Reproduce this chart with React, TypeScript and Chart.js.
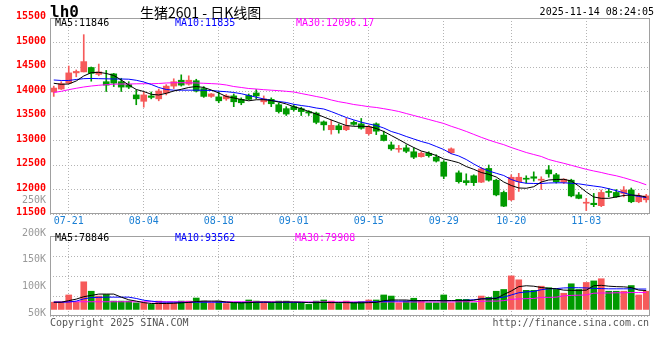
import React, { useEffect, useRef } from 'react';
import { Chart, registerables } from 'chart.js';

Chart.register(...registerables);

const MONO = '"DejaVu Sans Mono", "Liberation Mono", monospace';
const CJK = '"Noto Sans CJK SC", "Noto Sans", sans-serif';
const UP = '#f65a5a';
const DOWN = '#009a00';
const GRID = '#b4b4b4';
const FRAME = '#a0a0a0';

// ---- data ----
const dates = [
  '07-17', '07-18', '07-21', '07-22', '07-23', '07-24', '07-25', '07-28', '07-29', '07-30',
  '07-31', '08-01', '08-04', '08-05', '08-06', '08-07', '08-08', '08-11', '08-12', '08-13',
  '08-14', '08-15', '08-18', '08-19', '08-20', '08-21', '08-22', '08-25', '08-26', '08-27',
  '08-28', '08-29', '09-01', '09-02', '09-03', '09-04', '09-05', '09-08', '09-09', '09-10',
  '09-11', '09-12', '09-15', '09-16', '09-17', '09-18', '09-19', '09-22', '09-23', '09-24',
  '09-25', '09-26', '09-29', '09-30', '10-09', '10-10', '10-13', '10-14', '10-15', '10-16',
  '10-17', '10-20', '10-21', '10-22', '10-23', '10-24', '10-27', '10-28', '10-29', '10-30',
  '10-31', '11-03', '11-04', '11-05', '11-06', '11-07', '11-10', '11-11', '11-12', '11-13',
];

const opens = [
  13990, 14050, 14170, 14380, 14400, 14490, 14350, 14200, 14360, 14200,
  14140, 13930, 13800, 13910, 13850, 13970, 14110, 14230, 14150, 14220,
  14060, 13900, 13890, 13850, 13910, 13840, 13920, 13970, 13790, 13840,
  13730, 13650, 13690, 13650, 13590, 13560, 13380, 13220, 13300, 13220,
  13370, 13340, 13140, 13340, 13110, 12910, 12820, 12850, 12770, 12670,
  12740, 12660, 12560, 12750, 12340, 12180, 12280, 12150, 12430, 12190,
  11940, 11790, 12160, 12220, 12260, 12190, 12400, 12300, 12150, 12190,
  11890, 11720, 11720, 11670, 11960, 11940, 11920, 11990, 11750, 11790,
];
const closes = [
  14070, 14160, 14380, 14410, 14610, 14370, 14400, 14130, 14170, 14090,
  14090, 13850, 13930, 13880, 14010, 14110, 14200, 14130, 14230, 14010,
  13900, 13950, 13810, 13910, 13790, 13770, 13840, 13910, 13850, 13750,
  13590, 13540, 13630, 13590, 13560, 13370, 13320, 13310, 13220, 13300,
  13330, 13250, 13280, 13190, 13000, 12830, 12830, 12780, 12660, 12740,
  12690, 12580, 12270, 12830, 12160, 12140, 12140, 12420, 12190, 11890,
  11660, 12250, 12250, 12210, 12230, 12210, 12320, 12160, 12210, 11870,
  11820, 11740, 11690, 11940, 11940, 11850, 11990, 11750, 11870, 11870,
];
const highs = [
  14110, 14200, 14520, 14440, 15160, 14500, 14560, 14430, 14370, 14270,
  14200, 14030, 13990, 13990, 14050, 14140, 14260, 14340, 14320, 14250,
  14100, 13960, 13990, 13940, 13950, 13870, 13950, 14040, 13910, 13870,
  13770, 13690, 13730, 13680, 13610, 13580, 13400, 13420, 13340, 13450,
  13400, 13450, 13310, 13360, 13190, 12970, 12900, 12910, 12850, 12770,
  12770, 12710, 12590, 12850, 12380, 12320, 12300, 12450, 12500, 12210,
  11970, 12300, 12330, 12280, 12360, 12260, 12490, 12330, 12220, 12210,
  11940, 11820, 11920, 11990, 12020, 12000, 12060, 12030, 11920, 11900,
];
const lows = [
  13900, 14040, 14160, 14300, 14400, 14210, 14320, 14000, 14100, 14000,
  14060, 13730, 13680, 13850, 13810, 13930, 14060, 14110, 14130, 13990,
  13880, 13880, 13770, 13820, 13690, 13730, 13830, 13850, 13740, 13690,
  13560, 13510, 13600, 13510, 13510, 13340, 13210, 13130, 13150, 13200,
  13310, 13230, 13110, 13120, 12990, 12800, 12760, 12750, 12630, 12660,
  12660, 12560, 12220, 12730, 12130, 12090, 12080, 12140, 12170, 11870,
  11650, 11770, 11960, 12130, 12170, 12000, 12250, 12130, 12120, 11850,
  11810, 11570, 11650, 11650, 11850, 11840, 11850, 11730, 11730, 11740,
];

const ma5 = [
  14168, 14147, 14153, 14215, 14317, 14384, 14392, 14368, 14327, 14235,
  14133, 14041, 14000, 13943, 13929, 13963, 14010, 14045, 14082, 14102,
  14082, 14031, 13970, 13898, 13868, 13837, 13810, 13831, 13833, 13816,
  13786, 13745, 13690, 13649, 13592, 13541, 13480, 13419, 13363, 13306,
  13290, 13290, 13286, 13245, 13184, 13102, 13021, 12935, 12857, 12786,
  12745, 12694, 12623, 12588, 12547, 12469, 12412, 12347, 12310, 12255,
  12153, 12082, 12031, 12025, 12057, 12153, 12194, 12204, 12208, 12174,
  12071, 11949, 11847, 11820, 11820, 11847, 11878, 11888, 11878, 11846,
];
const ma10 = [
  14235, 14225, 14225, 14245, 14262, 14266, 14262, 14259, 14255, 14255,
  14251, 14229, 14194, 14143, 14082, 14041, 14027, 14027, 14027, 14027,
  14025, 14021, 14006, 13996, 13980, 13955, 13919, 13884, 13847, 13817,
  13796, 13776, 13739, 13714, 13694, 13663, 13643, 13590, 13530, 13470,
  13420, 13375, 13337, 13306, 13255, 13184, 13139, 13082, 13031, 12980,
  12939, 12878, 12816, 12731, 12684, 12612, 12521, 12439, 12378, 12331,
  12286, 12204, 12153, 12127, 12123, 12123, 12133, 12137, 12137, 12127,
  12116, 12092, 12071, 12051, 12016, 11976, 11933, 11888, 11857, 11835,
];
const ma30 = [
  13980, 14004, 14037, 14066, 14092, 14112, 14127, 14139, 14149, 14153,
  14153, 14157, 14159, 14159, 14163, 14174, 14178, 14180, 14178, 14174,
  14168, 14161, 14153, 14133, 14102, 14082, 14061, 14051, 14037, 14027,
  14017, 14004, 13990, 13959, 13929, 13898, 13868, 13827, 13792, 13766,
  13735, 13714, 13690, 13674, 13649, 13623, 13592, 13551, 13510, 13470,
  13429, 13388, 13347, 13290, 13240, 13185, 13125, 13065, 13010, 12960,
  12915, 12857, 12806, 12755, 12714, 12674, 12612, 12572, 12535, 12494,
  12453, 12412, 12378, 12347, 12310, 12280, 12240, 12195, 12150, 12096,
];

// volume, in thousands of lots
const volumes = [
  33, 33, 66, 33, 126, 83, 61, 68, 38, 38,
  38, 30, 30, 23, 38, 30, 30, 38, 38, 52,
  38, 30, 38, 27, 30, 30, 43, 38, 30, 30,
  38, 38, 30, 30, 23, 38, 43, 38, 27, 38,
  30, 35, 43, 43, 66, 61, 30, 38, 51, 38,
  30, 30, 66, 30, 46, 46, 30, 61, 55, 83,
  91, 153, 135, 87, 87, 106, 99, 91, 74, 117,
  91, 123, 130, 140, 83, 83, 83, 109, 66, 83,
];
const volMa5 = [
  33, 33, 40, 47, 58, 64, 70, 70, 70, 56,
  44, 38, 31, 27, 27, 27, 28, 30, 32, 36,
  38, 38, 38, 34, 31, 30, 31, 33, 34, 33,
  33, 34, 34, 33, 31, 31, 32, 31, 31, 31,
  30, 30, 31, 32, 40, 43, 43, 43, 40, 40,
  40, 40, 40, 40, 40, 40, 42, 48, 48, 50,
  68, 84, 104, 108, 106, 100, 96, 94, 88, 87,
  87, 88, 108, 110, 106, 104, 103, 100, 88, 86,
];
const volMa10 = [
  33, 33, 34, 38, 48, 54, 55, 56, 56, 56,
  56, 50, 42, 38, 34, 33, 33, 32, 32, 33,
  33, 33, 33, 32, 32, 32, 32, 32, 32, 32,
  32, 32, 32, 32, 32, 32, 32, 32, 32, 32,
  32, 33, 34, 35, 36, 38, 38, 38, 39, 40,
  40, 40, 40, 40, 41, 42, 44, 48, 50, 52,
  56, 66, 76, 80, 82, 90, 94, 95, 98, 99,
  99, 98, 96, 95, 94, 94, 94, 94, 93, 93,
];
const volMa30 = [
  34, 34, 35, 35, 35, 35, 35, 35, 35, 35,
  35, 35, 35, 35, 35, 35, 35, 35, 35, 35,
  35, 35, 35, 35, 35, 35, 35, 35, 35, 35,
  34, 34, 34, 34, 34, 34, 34, 34, 34, 34,
  34, 34, 34, 34, 34, 34, 34, 34, 34, 34,
  34, 34, 34, 34, 35, 35, 35, 37, 38, 38,
  40, 46, 48, 49, 50, 55, 55, 56, 62, 64,
  65, 66, 74, 75, 75, 76, 76, 77, 77, 77,
];

const dateTicks = ['07-21', '08-04', '08-18', '09-01', '09-15', '09-29', '10-20', '11-03'];
const priceMin = 11500;
const priceMax = 15500;
const priceStep = 500;
const volLabelMin = 50;
const volLabelMax = 200;
const volLabelStep = 50;
const volExtraLabel = '250K';
const volScaleMin = -30;
const volScaleMax = 335;

const priceLegend = [
  { text: 'MA5:11846', color: '#000000' },
  { text: 'MA10:11835', color: '#0000ff' },
  { text: 'MA30:12096.17', color: '#ff00ff' },
];
const volLegend = [
  { text: 'MA5:78846', color: '#000000' },
  { text: 'MA10:93562', color: '#0000ff' },
  { text: 'MA30:79908', color: '#ff00ff' },
];

const isUp = closes.map((c, i) => c >= opens[i]);
const candleColors = isUp.map((u) => (u ? UP : DOWN));

const framePlugin = {
  id: 'frame',
  afterDraw(chart: any) {
    const { ctx, chartArea: a } = chart;
    ctx.save();
    ctx.strokeStyle = FRAME;
    ctx.lineWidth = 1;
    ctx.setLineDash([]);
    const x0 = Math.floor(a.left) + 0.5;
    const y0 = Math.floor(a.top) + 0.5;
    const x1 = Math.floor(a.right) - 0.5;
    const y1 = Math.floor(a.bottom) - 0.5;
    ctx.strokeRect(x0, y0, x1 - x0, y1 - y0);
    ctx.restore();
  },
};

const dateAxis = (showLabels: boolean, height: number) => ({
  type: 'category' as const,
  labels: dates,
  offset: true,
  afterBuildTicks: (scale: any) => {
    scale.ticks = scale.ticks.filter((t: any) => dateTicks.includes(dates[t.value]));
  },
  afterFit: (scale: any) => {
    scale.height = height;
  },
  grid: { offset: false, color: GRID, lineWidth: 1, drawTicks: false },
  border: { display: false, dash: [1, 2] },
  ticks: {
    display: showLabels,
    autoSkip: false,
    maxRotation: 0,
    minRotation: 0,
    padding: 1,
    color: '#1a7fd4',
    font: { family: MONO, size: 10 },
  },
});

const lineDs = (label: string, data: number[], color: string) => ({
  type: 'line' as const,
  label,
  data,
  borderColor: color,
  backgroundColor: color,
  borderWidth: 1,
  pointRadius: 0,
  tension: 0,
  order: 0,
});

export default function App() {
  const priceRef = useRef<HTMLCanvasElement>(null);
  const volRef = useRef<HTMLCanvasElement>(null);

  useEffect(() => {
    const priceChart = new Chart(priceRef.current as HTMLCanvasElement, {
      type: 'bar',
      data: {
        labels: dates,
        datasets: [
          lineDs('MA5', ma5, '#000000'),
          lineDs('MA10', ma10, '#0000ff'),
          lineDs('MA30', ma30, '#ff00ff'),
          {
            type: 'bar',
            label: 'body',
            data: opens.map((o, i) => [o, closes[i]]),
            backgroundColor: candleColors,
            barThickness: 6,
            minBarLength: 1,
            grouped: false,
            order: 1,
          } as any,
          {
            type: 'bar',
            label: 'wick',
            data: lows.map((l, i) => [l, highs[i]]),
            backgroundColor: candleColors,
            barThickness: 1,
            grouped: false,
            order: 2,
          } as any,
        ],
      },
      options: {
        animation: false,
        responsive: false,
        devicePixelRatio: 1,
        events: [],
        layout: { padding: { top: 18, right: 10, left: 0, bottom: 0 } },
        plugins: { legend: { display: false }, tooltip: { enabled: false } },
        scales: {
          x: dateAxis(true, 16) as any,
          y: {
            type: 'linear',
            position: 'left',
            min: priceMin,
            max: priceMax,
            afterFit: (scale: any) => {
              scale.width = 50;
            },
            grid: { color: GRID, lineWidth: 1, drawTicks: false },
            border: { display: false, dash: [1, 2] },
            ticks: {
              stepSize: priceStep,
              padding: 4,
              labelOffset: -1.5,
              color: '#ff0000',
              font: { family: MONO, size: 10, weight: 'bold' },
              callback: (v: any) => String(v),
            },
          } as any,
        },
      },
      plugins: [framePlugin],
    });

    const volChart = new Chart(volRef.current as HTMLCanvasElement, {
      type: 'bar',
      data: {
        labels: dates,
        datasets: [
          { ...lineDs('MA5', volMa5, '#000000'), yAxisID: 'y' },
          { ...lineDs('MA10', volMa10, '#0000ff'), yAxisID: 'y' },
          { ...lineDs('MA30', volMa30, '#ff00ff'), yAxisID: 'y' },
          {
            type: 'bar',
            label: 'volume',
            data: volumes,
            backgroundColor: candleColors,
            barThickness: 6,
            grouped: false,
            yAxisID: 'y',
            order: 1,
          } as any,
        ],
      },
      options: {
        animation: false,
        responsive: false,
        devicePixelRatio: 1,
        events: [],
        layout: { padding: { top: 8, right: 10, left: 0, bottom: 0 } },
        plugins: { legend: { display: false }, tooltip: { enabled: false } },
        scales: {
          x: dateAxis(false, 8) as any,
          y: {
            type: 'linear',
            position: 'left',
            min: volScaleMin,
            max: volScaleMax,
            afterBuildTicks: (scale: any) => {
              const n = 4;
              scale.ticks = Array.from({ length: n + 1 }, (_, i) => ({
                value: scale.min + ((scale.max - scale.min) * i) / n,
              }));
            },
            afterFit: (scale: any) => {
              scale.width = 0;
            },
            grid: { color: GRID, lineWidth: 1, drawTicks: false },
            border: { display: false, dash: [1, 2] },
            ticks: { display: false },
          } as any,
          yl: {
            type: 'linear',
            position: 'left',
            min: volLabelMin,
            max: volLabelMax,
            afterFit: (scale: any) => {
              scale.width = 50;
            },
            grid: { display: false, drawTicks: false },
            border: { display: false },
            ticks: {
              stepSize: volLabelStep,
              padding: 4,
              labelOffset: -3,
              color: '#999999',
              font: { family: MONO, size: 10 },
              callback: (v: any) => `${v}K`,
            },
          } as any,
        },
      },
      plugins: [framePlugin],
    });

    return () => {
      priceChart.destroy();
      volChart.destroy();
    };
  }, []);

  const text = (
    key: string,
    x: number,
    y: number,
    content: string,
    opts: { color?: string; size?: number; font?: string; weight?: string; align?: 'left' | 'right' } = {}
  ) => {
    const { color = '#000', size = 10, font = MONO, weight = 'normal', align = 'left' } = opts;
    const style: React.CSSProperties = {
      position: 'absolute',
      top: y - 9,
      height: 18,
      lineHeight: '18px',
      fontFamily: font,
      fontSize: size,
      fontWeight: weight as any,
      color,
      whiteSpace: 'pre',
    };
    if (align === 'left') style.left = x;
    else style.right = 660 - x;
    return (
      <div key={key} style={style}>
        {content}
      </div>
    );
  };

  const priceLegendX = [55, 175, 296];
  const volLegendX = [55, 175, 295];

  return (
    <div
      style={{
        position: 'absolute',
        left: 0,
        top: 0,
        width: 660,
        height: 360,
        background: '#ffffff',
        overflow: 'hidden',
      }}
    >
      <canvas
        ref={priceRef}
        width={660}
        height={230}
        style={{ position: 'absolute', left: 0, top: 0, width: 660, height: 230 }}
      />
      <canvas
        ref={volRef}
        width={660}
        height={100}
        style={{ position: 'absolute', left: 0, top: 226, width: 660, height: 100 }}
      />
      {text('code', 50, 12, 'lh0', { size: 16, weight: 'bold' })}
      {text('title', 140, 12, '生猪2601 - 日K线图', { size: 14, font: CJK })}
      {text('time', 654, 12, '2025-11-14 08:24:05', { align: 'right' })}
      {priceLegend.map((l, i) => text('pl' + i, priceLegendX[i], 23, l.text, { color: l.color }))}
      {volLegend.map((l, i) => text('vl' + i, volLegendX[i], 238, l.text, { color: l.color }))}
      {text('v250', 46, 200, volExtraLabel, { color: '#999999', align: 'right' })}
      {text('copy', 50, 323, 'Copyright 2025 SINA.COM', { color: '#555555' })}
      {text('url', 649, 323, 'http://finance.sina.com.cn', { color: '#555555', align: 'right' })}
    </div>
  );
}
